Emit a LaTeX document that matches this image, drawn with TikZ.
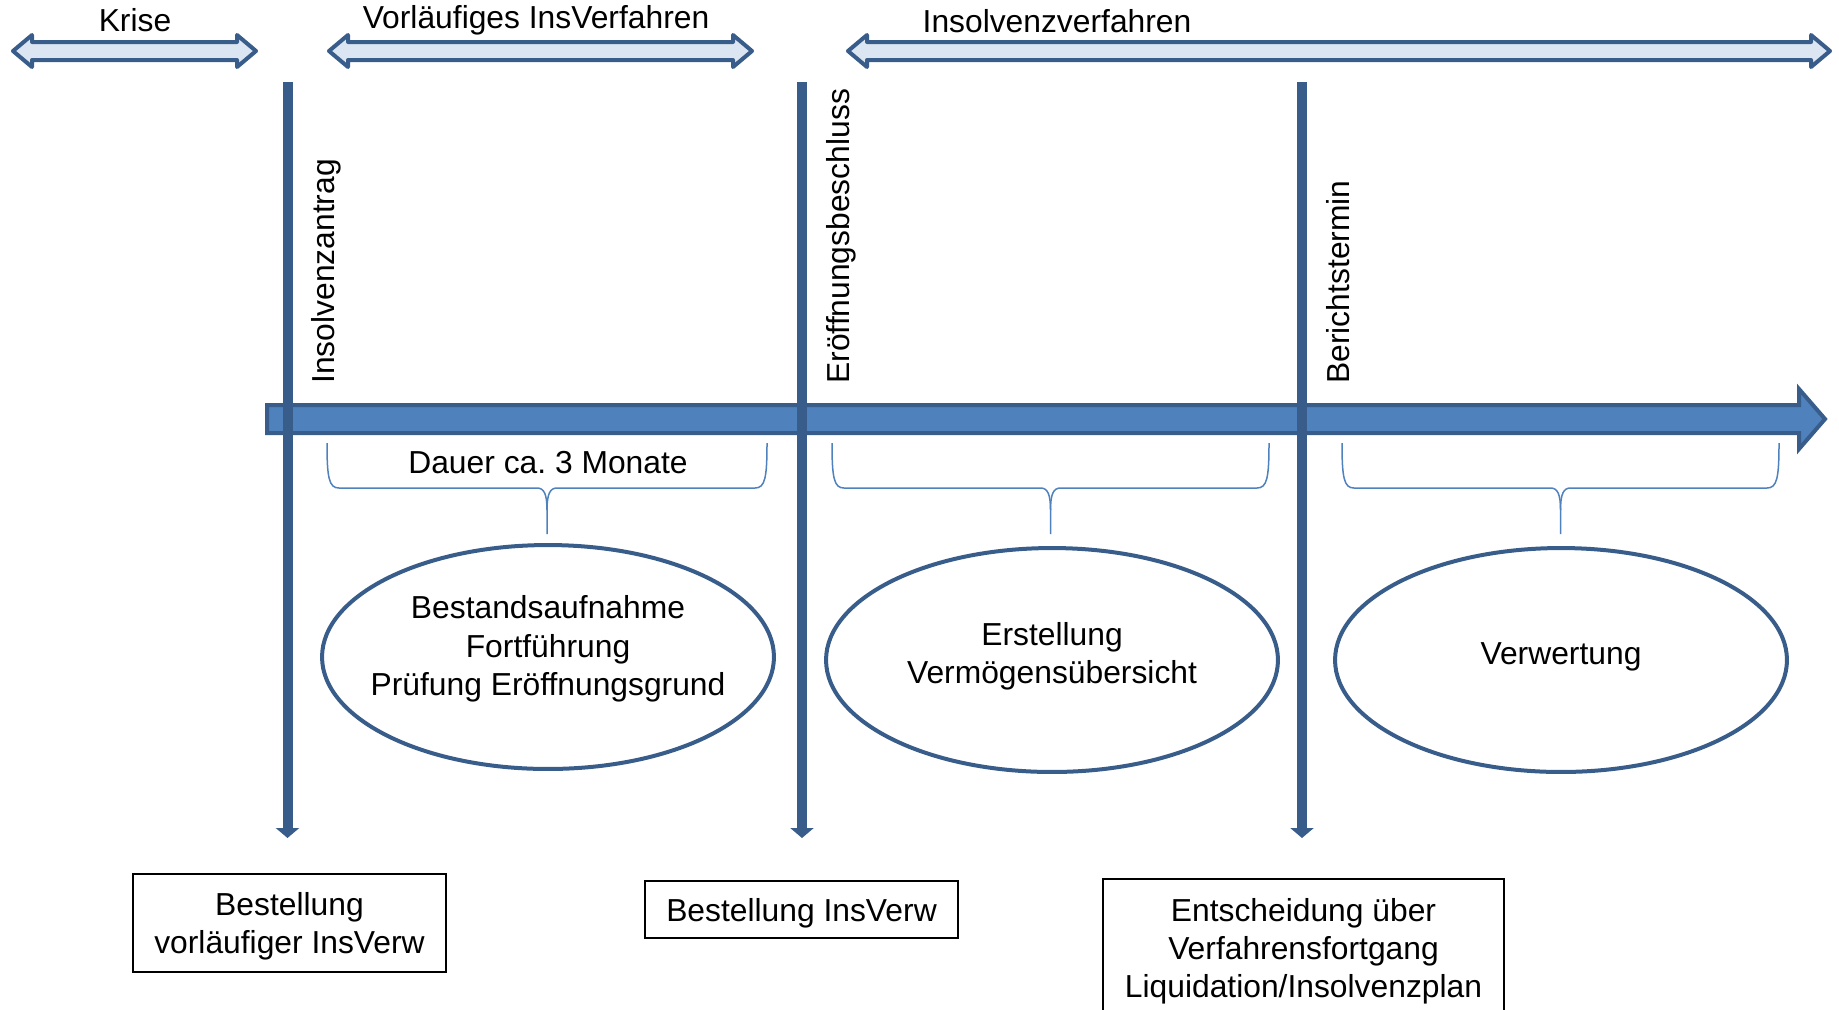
\documentclass[tikz,border=0pt]{standalone}
\usepackage{fontspec}
\setmainfont{Liberation Sans}
\usetikzlibrary{arrows.meta, shapes.geometric}

\definecolor{arrowfill}{HTML}{4F81BD}
\definecolor{arrowline}{HTML}{385D8A}
\definecolor{phasefill}{HTML}{DCE6F2}
\newcommand{\phasefont}{\fontsize{18.1}{21.8}\selectfont}

\begin{document}
\begin{tikzpicture}[x=0.02cm, y=-0.02cm, every node/.style={font=\phasefont},
    phase/.style={draw=arrowline, fill=phasefill, line width=0.08cm, line join=round},
    timeline/.style={draw=arrowline, fill=arrowfill, line width=0.08cm},
    marker/.style={draw=arrowline, line width=0.2cm, -{Triangle[width=0.46cm, length=0.2cm]}},
    span/.style={draw=arrowfill, line width=0.03cm},
    task/.style={ellipse, draw=arrowline, line width=0.08cm, minimum width=9.04cm, minimum height=4.48cm},
    result/.style={rectangle, draw=black, line width=0.035cm, minimum width=6.26cm, align=center, text depth=0pt},
    event/.style={rotate=90, anchor=north west, inner sep=0pt}]
    \useasboundingbox (0,0) rectangle (1839,1009);
    \clip (0,0) rectangle (1839,1009);

    \foreach \xa/\xb in {13/256, 329/752, 848/1830}
        \draw[phase] (\xa,51) -- (\xa+19,35) -- (\xa+19,42) -- (\xb-19,42) -- (\xb-19,35) -- (\xb,51)
            -- (\xb-19,67) -- (\xb-19,60) -- (\xa+19,60) -- (\xa+19,67) -- cycle;
    \node[anchor=base] (crisis) at (135,31) {Krise};
    \node[anchor=base] (prelim phase) at (536,28.5) {Vorläufiges InsVerfahren};
    \node[anchor=base] (main phase) at (1057,32) {Insolvenzverfahren};

    \draw[timeline] (267,405) -- (1799,405) -- (1799,389) -- (1825,419) -- (1799,449) -- (1799,433) -- (267,433) -- cycle;

    \coordinate (filing top) at (287.5,82);
    \coordinate (filing end) at (287.5,838);
    \coordinate (opening top) at (802,82);
    \coordinate (opening end) at (802,838);
    \coordinate (report top) at (1302,82);
    \coordinate (report end) at (1302,838);
    \draw[marker] (filing top) -- (filing end);
    \draw[marker] (opening top) -- (opening end);
    \draw[marker] (report top) -- (report end);
    \node[event] (filing) at (311.5,384) {Insolvenzantrag};
    \node[event] (opening) at (826,384) {Eröffnungsbeschluss};
    \node[event] (report) at (1326,384) {Berichtstermin};

    \foreach \xa/\xb in {327/767, 832/1269, 1342/1779}{
        \pgfmathsetmacro{\xc}{(\xa+\xb)/2}
        \draw[span] (\xa,443) .. controls (\xa,478) and (\xa+2,488) .. (\xa+12,488) -- (\xc-10,488)
            .. controls (\xc-3,488) and (\xc,494) .. (\xc,510) -- (\xc,534);
        \draw[span] (\xb,443) .. controls (\xb,478) and (\xb-2,488) .. (\xb-12,488) -- (\xc+10,488)
            .. controls (\xc+3,488) and (\xc,494) .. (\xc,510);
    }
    \node[anchor=base] (duration) at (548,473) {Dauer ca.\ 3 Monate};

    \node[task] (survey) at (548,657) {};
    \node[task] (statement) at (1052,660) {};
    \node[task] (disposal) at (1561,660) {};
    \node[align=center] (survey text) at (548,649) {Bestandsaufnahme\\Fortführung\\Prüfung Eröffnungsgrund};
    \node[align=center] (statement text) at (1052,656) {Erstellung\\Vermögensübersicht};
    \node (disposal text) at (1561,657) {Verwertung};

    \node[result, minimum height=1.96cm] (prelim admin) at (289.5,923) {Bestellung\\vorläufiger InsVerw};
    \node[result, minimum height=1.14cm] (admin) at (801.5,909.5) {Bestellung InsVerw};
    \node[result, minimum width=8.02cm, minimum height=2.76cm] (decision) at (1303.5,948) {Entscheidung über\\Verfahrensfortgang\\Liquidation/Insolvenzplan};
\end{tikzpicture}
\end{document}
